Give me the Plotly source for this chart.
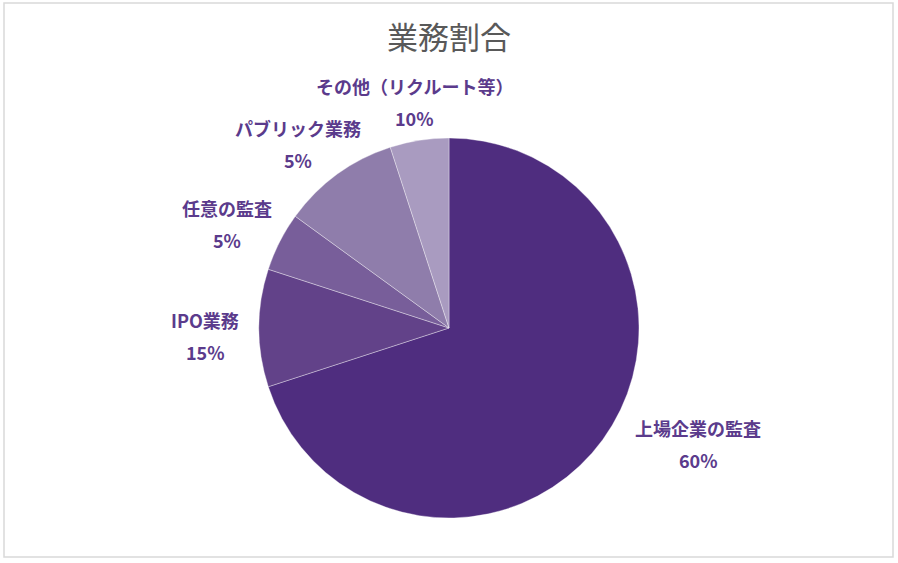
import plotly.graph_objects as go

# ---- data ----
categories = ["上場企業の監査", "IPO業務", "任意の監査", "パブリック業務", "その他（リクルート等）"]
values = [70, 10, 5, 10, 5]
percent_labels = ["60%", "15%", "5%", "5%", "10%"]
colors = ["#4F2D7F", "#624289", "#785E9A", "#8F7DAB", "#A99BC0"]

W, H = 898, 563
cx, cy, r = 449, 328, 190

fig = go.Figure()
fig.add_trace(go.Pie(
    labels=categories,
    values=values,
    sort=False,
    direction="clockwise",
    rotation=0,
    marker=dict(colors=colors, line=dict(color="rgba(255,255,255,0.35)", width=1)),
    textinfo="none",
    hoverinfo="label+percent",
    showlegend=False,
    domain=dict(x=[(cx - r) / W, (cx + r) / W], y=[(H - cy - r) / H, (H - cy + r) / H]),
))

# label block centres (pixels) - layout only
label_pos = [(698, 444), (205, 336), (227, 224), (298, 144), (414, 102)]
label_color = "#5B3B8C"
annotations = []
for name, pct, (lx, ly) in zip(categories, percent_labels, label_pos):
    annotations.append(dict(x=lx / W, y=(H - (ly - 16)) / H, xref="paper", yref="paper",
                            text=f"<b>{name}</b>", showarrow=False, xanchor="center", yanchor="middle",
                            font=dict(family="Noto Sans CJK JP", size=18, color=label_color)))
    annotations.append(dict(x=lx / W, y=(H - (ly + 16)) / H, xref="paper", yref="paper",
                            text=f"<b>{pct}</b>", showarrow=False, xanchor="center", yanchor="middle",
                            font=dict(family="Noto Sans CJK JP", size=18, color=label_color)))

fig.update_layout(
    width=W, height=H,
    margin=dict(l=0, r=0, t=0, b=0),
    paper_bgcolor="white",
    plot_bgcolor="white",
    title=dict(text="業務割合", x=0.5, xanchor="center", y=(H - 38) / H, yanchor="middle",
               font=dict(family="Noto Sans CJK JP", size=31, color="#595959")),
    annotations=annotations,
    shapes=[dict(type="rect", xref="paper", yref="paper",
                 x0=4 / W, x1=893 / W, y0=(H - 557) / H, y1=(H - 3) / H,
                 line=dict(color="#D9D9D9", width=1.5), fillcolor="rgba(0,0,0,0)")],
)

fig.write_html("out.html", config={"displayModeBar": False},
               post_script="document.body.style.margin='0';document.body.style.overflow='hidden';")
